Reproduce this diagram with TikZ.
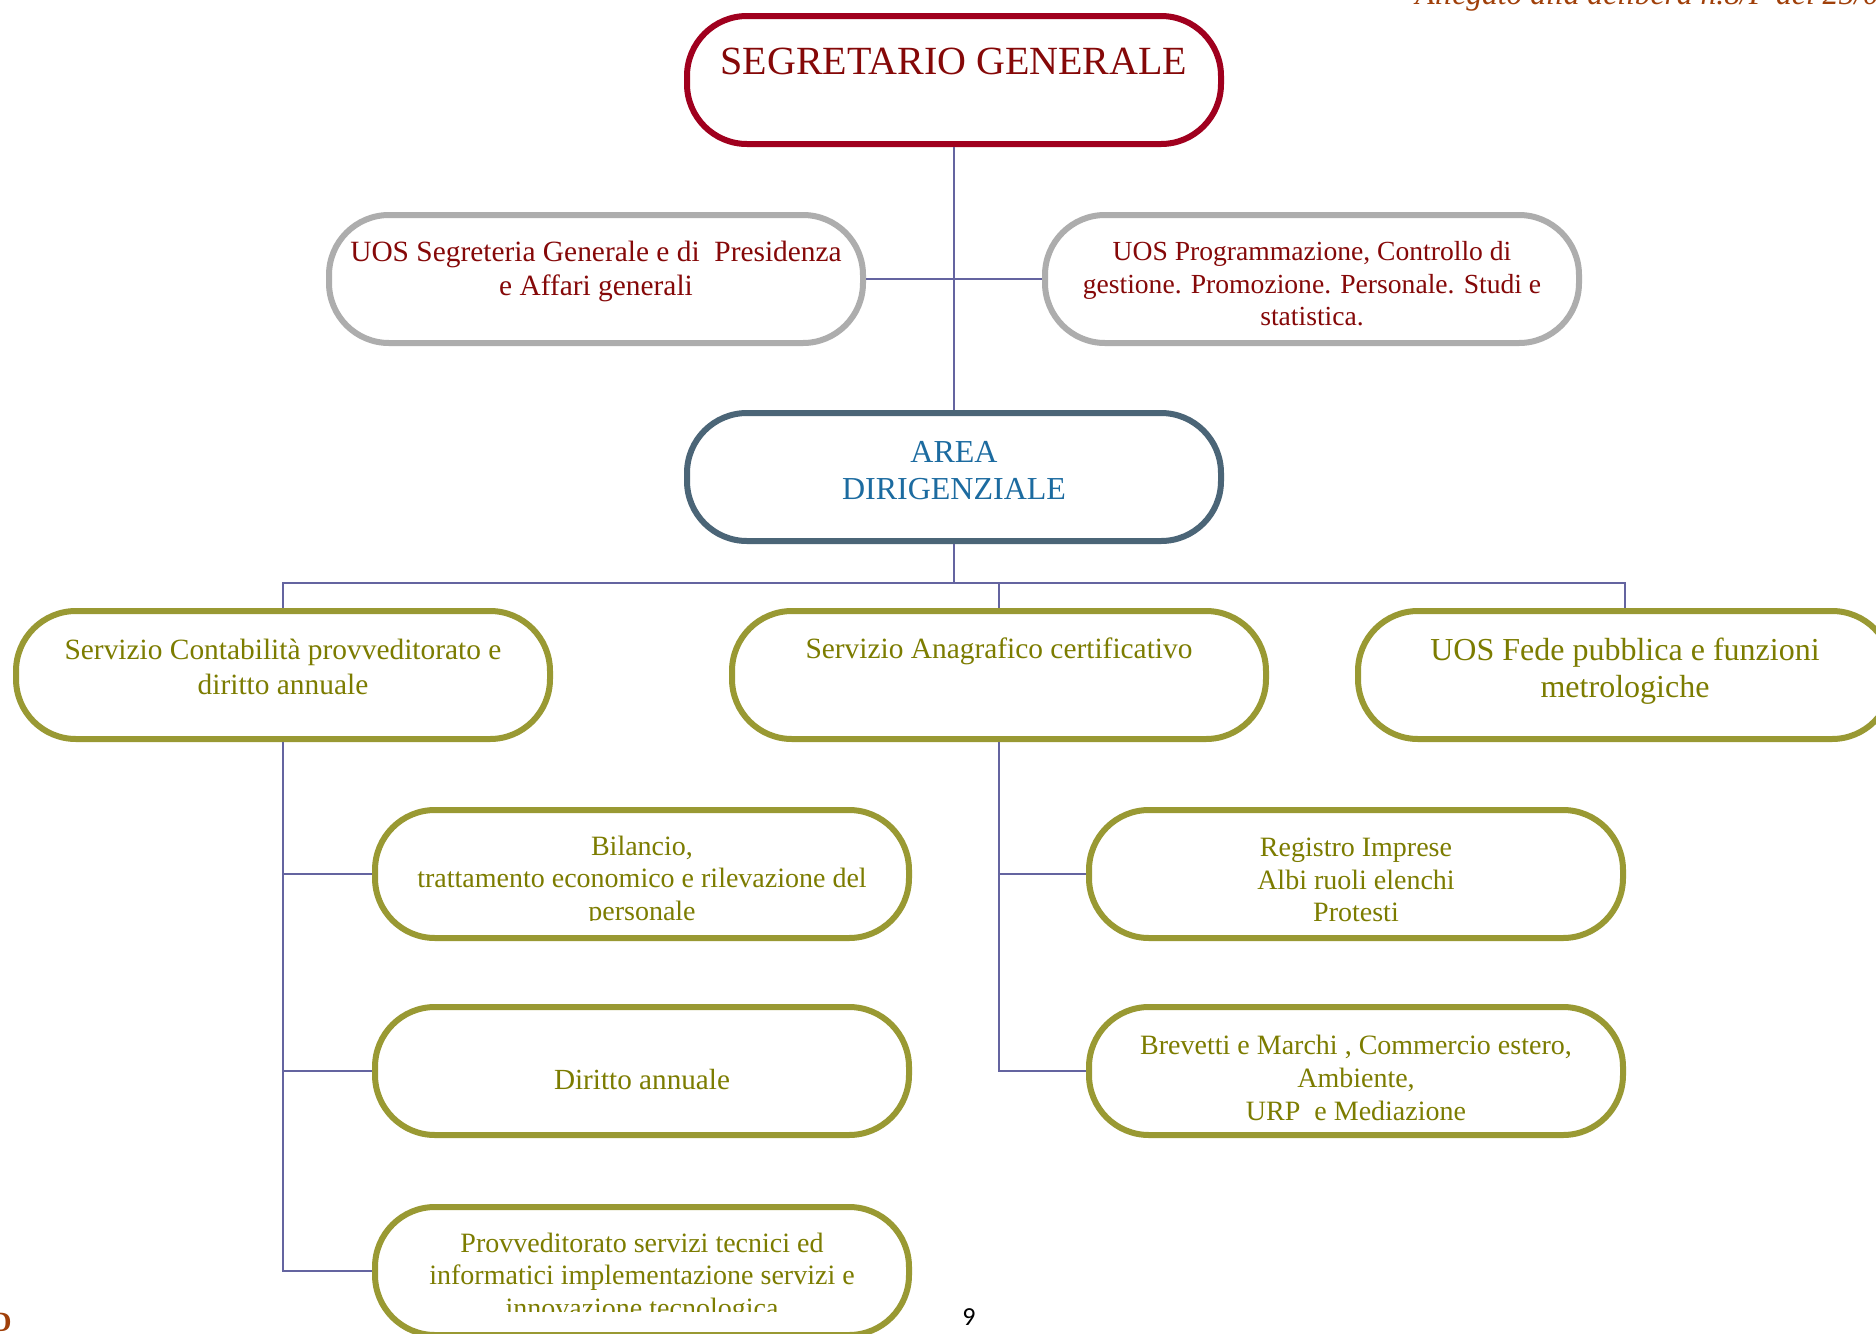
\documentclass[tikz,border=0pt]{standalone}
\usepackage{fontspec}
\setmainfont{Liberation Serif}
\newfontfamily\calib{Carlito}
\definecolor{segred}{HTML}{A0001E}
\definecolor{segtext}{HTML}{850808}
\definecolor{boxgray}{HTML}{ADADAD}
\definecolor{areaborder}{HTML}{4B6577}
\definecolor{areatext}{HTML}{1C6BA0}
\definecolor{oliveborder}{HTML}{999933}
\definecolor{olivetext}{HTML}{7C7C00}
\definecolor{linecol}{HTML}{6464A0}
\definecolor{brownc}{HTML}{A0400A}
\begin{document}
\begin{tikzpicture}[x=0.5pt,y=-0.5pt,
  box/.style={draw, fill=white, rectangle, rounded corners=30pt, line width=3pt,
              minimum width=267pt, minimum height=64pt, inner sep=0pt},
  redbox/.style={box, draw=segred},
  graybox/.style={box, draw=boxgray},
  areabox/.style={box, draw=areaborder},
  olivebox/.style={box, draw=oliveborder},
  lbl/.style={align=center, inner sep=0pt},
  redlbl/.style={lbl, text=segtext, font=\fontsize{14.7}{17}\selectfont},
  olivelbl/.style={lbl, text=olivetext, font=\fontsize{14}{16.3}\selectfont},
  conn/.style={draw=linecol, line width=1pt}
]
\useasboundingbox (0,0) rectangle (1876,1334);
\fill[white] (0,0) rectangle (1876,1334);

% boxes
\node[redbox] (seg) at (954,80) {};
\node[graybox] (segr) at (596,279) {};
\node[graybox] (prog) at (1312,279) {};
\node[areabox] (area) at (954,477) {};
\node[olivebox] (cont) at (283,675) {};
\node[olivebox] (anag) at (999,675) {};
\node[olivebox] (fede) at (1625,675) {};
\node[olivebox] (bil) at (642,874) {};
\node[olivebox] (dir) at (642,1071) {};
\node[olivebox] (prov) at (642,1271) {};
\node[olivebox] (reg) at (1356,874) {};
\node[olivebox] (brev) at (1356,1071) {};

% connectors
\coordinate (bus) at (954,583);
\draw[conn] (seg.south) -- (area.north);
\draw[conn] (segr.east) -- (prog.west);
\draw[conn] (area.south) -- (bus);
\draw[conn] (bus) -| (cont.north);
\draw[conn] (bus) -| (anag.north);
\draw[conn] (bus) -| (fede.north);
\draw[conn] (cont.south) |- (bil.west);
\draw[conn] (cont.south) |- (dir.west);
\draw[conn] (cont.south) |- (prov.west);
\draw[conn] (anag.south) |- (reg.west);
\draw[conn] (anag.south) |- (brev.west);

% labels
\node[lbl, text=segtext, font=\fontsize{20}{23}\selectfont] (segt) at (954,61) {SEGRETARIO GENERALE};
\node[redlbl] (segrt) at (596,271) {UOS Segreteria Generale e di~ Presidenza\\e Affari generali};
\node[redlbl, font=\fontsize{13.8}{16.2}\selectfont] (progt) at (1312,284) {UOS Programmazione, Controllo di\\gestione. Promozione. Personale. Studi e\\statistica.};
\node[lbl, text=areatext, font=\fontsize{16}{18.5}\selectfont] (areat) at (954,471) {AREA\\DIRIGENZIALE};
\node[olivelbl, font=\fontsize{14.7}{17.5}\selectfont] (contt) at (283,667) {Servizio Contabilità provveditorato e\\diritto annuale};
\node[olivelbl, font=\fontsize{14.7}{17}\selectfont] (anagt) at (999,651) {Servizio Anagrafico certificativo};
\node[olivelbl, font=\fontsize{16}{18.5}\selectfont] (fedet) at (1625,671) {UOS Fede pubblica e funzioni\\metrologiche};
\begin{scope}
  \clip (0,0) rectangle (1876,920);
  \node[olivelbl] (bilt) at (642,881) {Bilancio,\\trattamento economico e rilevazione del\\personale};
\end{scope}
\node[olivelbl] (regt) at (1356,880) {Registro Imprese\\Albi ruoli elenchi\\Protesti};
\node[olivelbl, font=\fontsize{14.6}{17}\selectfont] (dirt) at (642,1079) {Diritto annuale};
\begin{scope}
  \clip (0,0) rectangle (1876,1311);
  \node[olivelbl] (provt) at (642,1278) {Provveditorato servizi tecnici ed\\informatici implementazione servizi e\\innovazione tecnologica};
\end{scope}
\node[olivelbl] (brevt) at (1356,1078) {Brevetti e Marchi , Commercio estero,\\Ambiente,\\URP~ e Mediazione};

% page decorations
\node[inner sep=0pt, font=\calib\fontsize{13}{15}\selectfont] (pg) at (969,1317) {9};
\node[anchor=base west, inner sep=0pt, text=brownc, font=\itshape\fontsize{15.8}{18}\selectfont] (alleg) at (1415,4) {Allegato alla delibera n.8/P del 25/0};
\node[anchor=north east, inner sep=0pt, text=brownc, font=\bfseries\fontsize{14}{16}\selectfont] (mark) at (12,1313) {D};
\end{tikzpicture}
\end{document}
